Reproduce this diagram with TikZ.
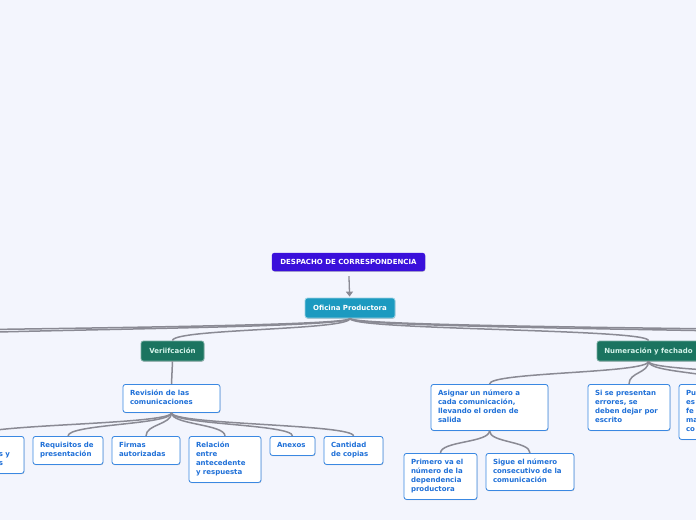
\documentclass[tikz,border=0pt]{standalone}
\usepackage{fontspec}
\setmainfont{DejaVu Sans}
\usetikzlibrary{arrows.meta,shadows}
\definecolor{fondo}{HTML}{F3F5FD}
\definecolor{titulo}{HTML}{3A10DB}
\definecolor{oficina}{HTML}{1C9AC0}
\definecolor{verde}{HTML}{1B7460}
\definecolor{menta}{HTML}{D4F3EA}
\definecolor{azul}{HTML}{3A88E2}
\definecolor{textoazul}{HTML}{1F70D8}
\definecolor{enlace}{HTML}{8A8A94}

\begin{document}
\begin{tikzpicture}[x=1pt,y=-1pt,
		caja/.style={rounded corners=2.5pt,inner xsep=7pt,inner ysep=0pt,font=\fontsize{7}{9}\selectfont\bfseries,
			drop shadow={shadow xshift=0.4pt,shadow yshift=-0.8pt,opacity=0.2,fill=black}},
		raiz/.style={caja,fill=titulo,draw=titulo,text=white,minimum height=18pt},
		central/.style={caja,fill=oficina,draw=white!55!oficina,line width=0.8pt,text=white,minimum height=20pt},
		tema/.style={caja,fill=verde,draw=white!40!verde,line width=0.8pt,text=menta,minimum height=20pt},
		hoja/.style={caja,fill=white,draw=azul,line width=0.8pt,text=textoazul,align=left,anchor=north,inner ysep=5pt,
			execute at begin node=\strut,execute at end node=\strut},
		rama/.style={draw=enlace,line width=1.5pt,to path={.. controls +(0,12) and +(0,-12) .. (\tikztotarget)}},
		flecha/.style={draw=enlace,line width=1.3pt,-{Triangle[length=5pt,width=7pt]},shorten <=5pt,shorten >=1pt}]
	\useasboundingbox (0,0) rectangle (696,520);
	\fill[fondo] (0,0) rectangle (696,520);
	\clip (0,0) rectangle (696,520);
	\node[raiz,minimum width=153pt] (despacho) at (348.5,262) {DESPACHO DE CORRESPONDENCIA};
	\node[central,minimum width=90pt] (productora) at (350,308) {Oficina Productora};
	\node[tema,minimum width=63pt] (verificacion) at (172.5,351) {Veriifcación};
	\node[tema,minimum width=103pt] (numeracion) at (648.5,351) {Numeración y fechado};
	\coordinate (izqa) at (-150,341);
	\coordinate (izqb) at (-400,341);
	\coordinate (dera) at (950,341);
	\coordinate (derb) at (1200,341);
	\coordinate (numextra) at (870,384);
	\node[hoja,text width=83pt] (revision) at (171.5,384) {Revisión de las\\comunicaciones};
	\node[hoja,text width=84pt] (remitentes) at (-25,436) {\\\hspace*{66pt}s y\\\hspace*{66pt}s};
	\node[hoja,text width=56pt] (requisitos) at (68,436) {Requisitos de\\presentación};
	\node[hoja,text width=54pt] (firmas) at (146,436) {Firmas\\autorizadas};
	\node[hoja,text width=58pt] (relacion) at (225,436) {Relación\\entre\\antecedente\\y respuesta};
	\node[hoja,text width=31pt] (anexos) at (292.5,436) {Anexos};
	\node[hoja,text width=45pt] (copias) at (353.5,436) {Cantidad\\de copias};
	\node[hoja,text width=103pt] (asignar) at (489.5,384) {Asignar un número a\\cada comunicación,\\llevando el orden de\\salida};
	\node[hoja,text width=68pt] (errores) at (629,384) {Si se presentan\\errores, se\\deben dejar por\\escrito};
	\node[hoja,text width=82pt] (fecha) at (727,384) {Pu\\es\\fe\\ma\\co};
	\node[hoja,text width=59pt] (primero) at (440.5,453) {Primero va el\\número de la\\dependencia\\productora};
	\node[hoja,text width=74pt] (sigue) at (530,453) {Sigue el número\\consecutivo de la\\comunicación};
	\draw[flecha] (despacho) -- (productora);
	\draw[rama] (productora.south) to (izqb);
	\draw[rama] (productora.south) to (izqa);
	\draw[rama] (productora.south) to (dera);
	\draw[rama] (productora.south) to (derb);
	\foreach \n in {verificacion,numeracion}
		\draw[rama] (productora.south) to (\n.north);
	\draw[rama] (verificacion.south) to (revision.north);
	\foreach \n in {remitentes,requisitos,firmas,relacion,anexos,copias}
		\draw[rama] (revision.south) to (\n.north);
	\foreach \n in {asignar,errores,fecha}
		\draw[rama] (numeracion.south) to (\n.north);
	\draw[rama] (numeracion.south) to (numextra);
	\foreach \n in {primero,sigue}
		\draw[rama] (asignar.south) to (\n.north);
\end{tikzpicture}
\end{document}
